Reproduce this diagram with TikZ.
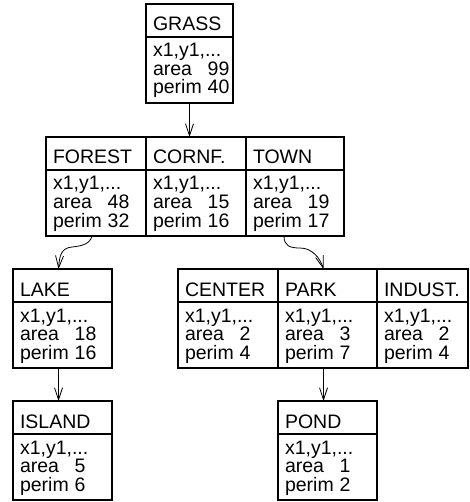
\documentclass[tikz,border=0pt]{standalone}
\usepackage{fontspec}
\setmainfont{Liberation Sans}
\usetikzlibrary{arrows.meta}
\newcommand\recbody[2]{\setbox0\hbox{perim\hskip 6pt #2}\vtop{\baselineskip=18.5pt\hbox{x1,y1,...}\hbox to\wd0{area\hfill#1}\box0}}
% name, x, y, inner text width (= box width - 14), title, area, perim
\newcommand\mkrec[7]{%
  \node[ttl, text width=#4pt, anchor=north west] (#1-t) at (#2,#3) {#5};
  \node[bdy, text width=#4pt, anchor=north west] (#1) at (#1-t.south west) {\recbody{#6}{#7}};
}
\begin{document}
\begin{tikzpicture}[x=1pt,y=-1pt,
  font=\fontsize{19.5}{18.5}\selectfont,
  ttl/.style={draw, line width=1.1pt, outer sep=0pt, inner xsep=7pt, inner ysep=0pt,
    text height=27pt, text depth=6pt, align=left},
  bdy/.style={draw, line width=1.1pt, outer sep=0pt, inner xsep=7pt, inner ysep=0pt,
    text height=20pt, text depth=46pt, align=left},
  arr/.style={-{Straight Barb[length=12pt,width=8pt]}, line width=0.8pt}]
\useasboundingbox (0,0) rectangle (469,502);
% level 1
\mkrec{grass}{146}{4}{73}{GRASS}{99}{40}
% level 2
\mkrec{forest}{46}{137}{86}{FOREST}{48}{32}
\mkrec{cornf}{146}{137}{86}{CORNF.}{15}{16}
\mkrec{town}{246}{137}{84}{TOWN}{19}{17}
% level 3
\mkrec{lake}{13}{269}{85}{LAKE}{18}{16}
\mkrec{center}{178}{269}{86}{CENTER}{2}{4}
\mkrec{park}{278}{269}{85}{PARK}{3}{7}
\mkrec{indust}{377}{269}{77}{INDUST.}{2}{4}
% level 4
\mkrec{island}{13}{401}{85}{ISLAND}{5}{6}
\mkrec{pond}{278}{401}{85}{POND}{1}{2}
% connectors
\draw[arr] (grass.south) -- (grass.south |- cornf-t.north);
\draw[arr] ([xshift=-4pt]lake.south) -- ([xshift=-4pt]island-t.north);
\draw[arr] ([xshift=-4pt]park.south) -- ([xshift=-4pt]pond-t.north);
\draw[arr] ([xshift=-4pt]forest.south) .. controls (90,244) and (82,246) .. (72,247)
  .. controls (61,248) and (59.5,256) .. ([xshift=-4pt]lake-t.north);
\draw[arr] ([xshift=-11pt]town.south) .. controls (284,246) and (290,248) .. (300,248)
  .. controls (312,248) and (320,258) .. ([xshift=-4pt]park-t.north);
\end{tikzpicture}
\end{document}
